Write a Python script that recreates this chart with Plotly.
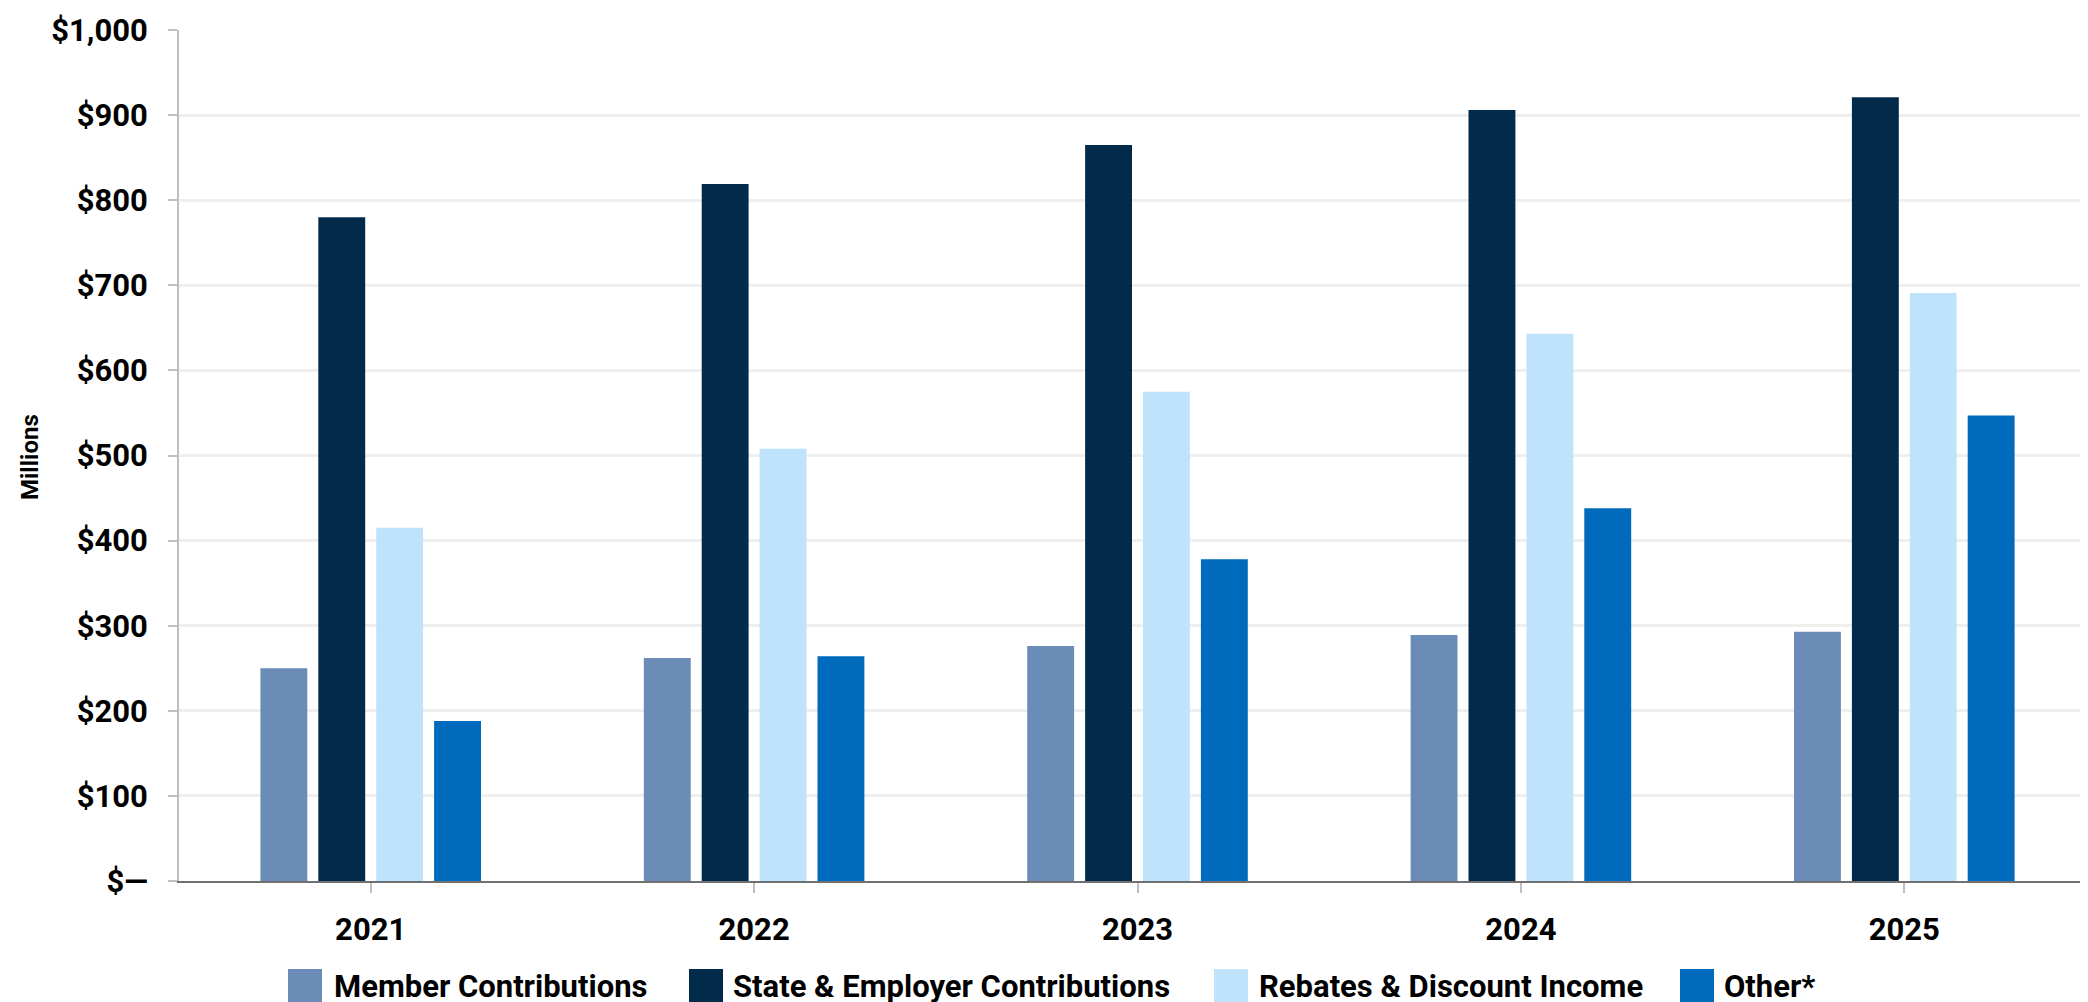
import plotly.graph_objects as go

years = ["2021", "2022", "2023", "2024", "2025"]
series_names = ["Member Contributions", "State & Employer Contributions",
                "Rebates & Discount Income", "Other*"]
member = [250, 262, 276, 289, 293]
state_employer = [780, 819, 865, 906, 921]
rebates = [415, 508, 575, 643, 691]
other = [188, 264, 378, 438, 547]
colors = ["#6A8CB6", "#022A4A", "#C0E3FC", "#006ABC"]

ytick_vals = [0, 100, 200, 300, 400, 500, 600, 700, 800, 900, 1000]
ytick_text = ["$—", "$100", "$200", "$300", "$400", "$500", "$600",
              "$700", "$800", "$900", "$1,000"]

W, H = 2088, 1002
ML, MR, MT, MB = 171, 0, 22, 129
PW, PH = W - ML - MR, H - MT - MB

def px_x(px):
    return (px - ML) / PW

def px_y(py):
    return (H - MB - py) / PH

FONT = "Roboto"
values = [member, state_employer, rebates, other]

fig = go.Figure()
for name, vals, col in zip(series_names, values, colors):
    fig.add_trace(go.Bar(name=name, x=years, y=vals, marker_color=col,
                         marker_line_width=0, showlegend=False))

# custom legend (large swatches like the original)
legend_swatch_x = [280, 681, 1206, 1672]
legend_text_x = [324, 723, 1249, 1714]
sw_top, sw_bot = 961, 994
for name, col, sx, tx in zip(series_names, colors, legend_swatch_x, legend_text_x):
    fig.add_shape(type="rect", xref="paper", yref="paper",
                  x0=px_x(sx), x1=px_x(sx + 34), y0=px_y(sw_bot), y1=px_y(sw_top),
                  fillcolor=col, line_width=0)
    fig.add_annotation(text=name, xref="paper", yref="paper",
                       x=px_x(tx), y=px_y(978), xanchor="left", yanchor="middle",
                       showarrow=False,
                       font=dict(family=FONT, size=31, weight="bold", color="black"))

fig.add_annotation(text="Millions", xref="paper", yref="paper",
                   x=px_x(22), y=px_y(449), textangle=-90,
                   xanchor="center", yanchor="middle", showarrow=False,
                   font=dict(family=FONT, size=24, weight="bold", color="black"))

fig.update_layout(
    width=W, height=H,
    margin=dict(l=ML, r=MR, t=MT, b=MB, autoexpand=False),
    paper_bgcolor="white", plot_bgcolor="white",
    barmode="group", bargap=0.396, bargroupgap=0.19,
    font=dict(family=FONT, color="black"),
)
fig.update_yaxes(
    range=[0, 1000], tickvals=ytick_vals, ticktext=ytick_text,
    showgrid=True, gridcolor="#EFEFEF", gridwidth=3,
    showline=True, linecolor="#BFBFBF", linewidth=2,
    ticks="outside", ticklen=9, tickcolor="#BFBFBF", tickwidth=2,
    ticklabelstandoff=14,
    tickfont=dict(family=FONT, size=31, weight="bold", color="black"),
    zeroline=False,
)
fig.update_xaxes(
    showline=True, linecolor="#707070", linewidth=2,
    ticks="outside", ticklen=10, tickcolor="#BFBFBF", tickwidth=2,
    ticklabelstandoff=10,
    tickfont=dict(family=FONT, size=31, weight="bold", color="black"),
)

fig.write_html("out.html")
